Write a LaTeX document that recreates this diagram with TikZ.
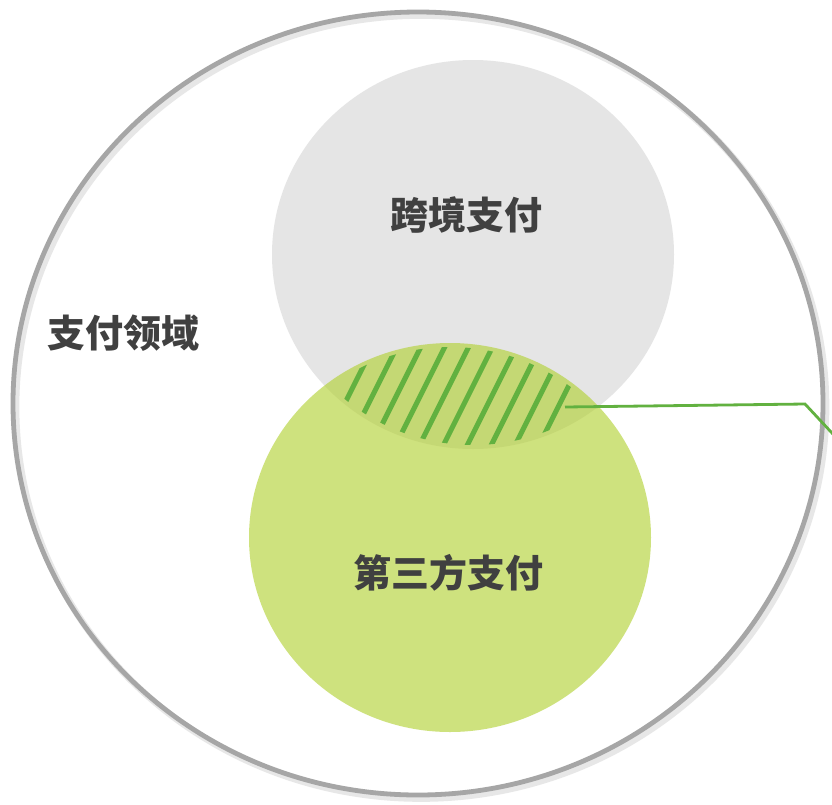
\documentclass[tikz,border=0pt]{standalone}
\usepackage{fontspec}
\newfontfamily\cjk{Noto Sans CJK SC}
\definecolor{ringgray}{RGB}{166,166,166}
\definecolor{shadowgray}{RGB}{215,215,215}
\definecolor{lightgray}{RGB}{229,229,229}
\definecolor{limegreen}{RGB}{177,208,46}
\definecolor{hatchgreen}{RGB}{98,177,64}
\definecolor{textgray}{RGB}{64,64,64}
\tikzset{
  lbl/.style={font=\cjk\bfseries\fontsize{28.5pt}{30pt}\selectfont, text=textgray, inner sep=0pt},
  hatchline/.style={draw=hatchgreen, line width=3.8pt},
  leader/.style={draw=hatchgreen, line width=2.1pt, line join=miter}
}
\begin{document}
\begin{tikzpicture}[x=0.75pt,y=-0.75pt]
\useasboundingbox (0,0) rectangle (832,804);
\fill[white] (0,0) rectangle (832,804);
% outer domain ring with soft shadow
\draw[shadowgray, line width=5pt, opacity=0.6] (421,407) ellipse [x radius=303.75pt, y radius=293.625pt];
\draw[ringgray, line width=3.6pt] (418,403.5) ellipse [x radius=303.75pt, y radius=293.625pt];
% cross-border circle
\fill[lightgray] (473,254.5) ellipse [x radius=150.75pt, y radius=145.875pt];
% third-party circle
\fill[limegreen, opacity=0.615] (450,537.5) ellipse [x radius=150.75pt, y radius=145.875pt];
% hatch on overlap
\begin{scope}
  \clip (473,254.5) ellipse [x radius=147.75pt, y radius=142.875pt];
  \clip (450,537.5) ellipse [x radius=147.75pt, y radius=142.875pt];
  \foreach \i in {0,...,9}{
    \pgfmathsetmacro{\xx}{346.5+23.9*\i}
    \draw[hatchline] (\xx+50,300) -- (\xx-50,500);
  }
\end{scope}
% leader
\coordinate (ls) at (565,407);
\coordinate (lb) at (805,404);
\coordinate (le) at (845,447);
\draw[leader] (ls) -- (lb) -- (le);
% labels
\node[lbl] (cb) at (466,215) {跨境支付};
\node[lbl] (tp) at (448,573) {第三方支付};
\node[lbl] (dom) at (123,333) {支付领域};
\end{tikzpicture}
\end{document}
